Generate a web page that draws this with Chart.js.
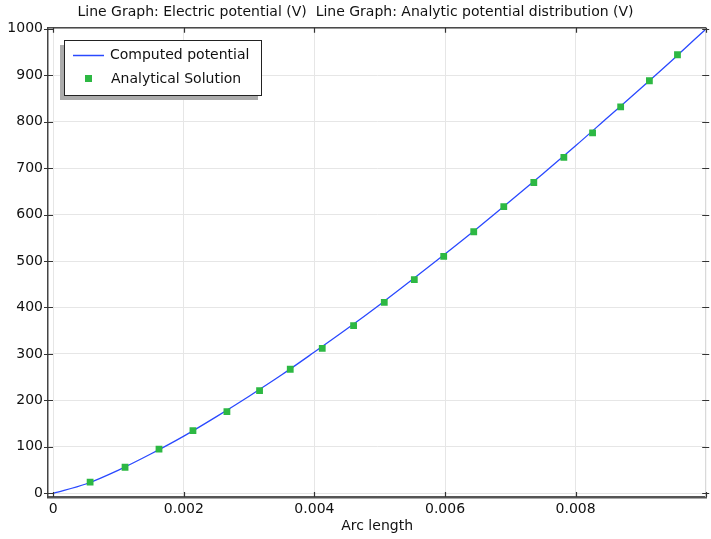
<!DOCTYPE html>
<html>
<head>
<meta charset="utf-8">
<script src="https://cdn.jsdelivr.net/npm/chart.js@4"></script>
<style>
  html, body { margin: 0; padding: 0; background: #fff; }
  #chart { display: block; }
</style>
</head>
<body>
<canvas id="chart" width="711" height="539"></canvas>
<script>
/* --------------------------
   DATA
--------------------------- */
// Computed potential (line)
const lineX = [0, 0.0005, 0.001, 0.0015, 0.002, 0.0025, 0.003, 0.0035, 0.004, 0.0045, 0.005,
               0.0055, 0.006, 0.0065, 0.007, 0.0075, 0.008, 0.0085, 0.009, 0.0095, 0.01];
const lineY = [0, 20, 50, 85, 123, 165, 209, 255, 304, 354, 406,
               460, 515, 571, 629, 688, 748, 810, 872, 935, 1000];

// Analytical solution (markers)
const markX = [0.000565, 0.0011, 0.00162, 0.00214, 0.00266, 0.00316, 0.00363, 0.00412, 0.0046, 0.00507,
               0.00553, 0.00598, 0.00644, 0.0069, 0.00736, 0.00782, 0.00826, 0.00869, 0.00913, 0.00956];
const markY = [24, 56, 95, 135, 176, 221, 267, 312, 361, 411,
               460, 510, 563, 617, 669, 723, 776, 832, 888, 944];

const xTicks = [0, 0.002, 0.004, 0.006, 0.008];
const yTicks = [0, 100, 200, 300, 400, 500, 600, 700, 800, 900, 1000];

const titleText = 'Line Graph: Electric potential (V)  Line Graph: Analytic potential distribution (V)';
const seriesNames = ['Computed potential', 'Analytical Solution'];

const FONT = 'DejaVu Sans';
const BLUE = '#2a49ff';
const GREEN = '#2db843';

/* --------------------------
   FRAME + LEGEND PLUGIN
--------------------------- */
const framePlugin = {
    id: 'frame',
    afterDraw(chart) {
        const ctx = chart.ctx;
        const a = chart.chartArea;
        const xs = chart.scales.x, ys = chart.scales.y;
        ctx.save();

        // right edge (light) and top edge (dark)
        ctx.strokeStyle = '#d0d0d0';
        ctx.lineWidth = 1;
        ctx.beginPath();
        ctx.moveTo(a.right - 0.5, a.top);
        ctx.lineTo(a.right - 0.5, a.bottom);
        ctx.stroke();
        ctx.strokeStyle = '#4a4a4a';
        ctx.lineWidth = 1.5;
        ctx.beginPath();
        ctx.moveTo(a.left, a.top);
        ctx.lineTo(a.right, a.top);
        ctx.stroke();

        // tick marks
        ctx.strokeStyle = '#333';
        ctx.lineWidth = 1.2;
        xTicks.concat([0.01]).forEach(v => {
            const px = Math.round(xs.getPixelForValue(v)) + 0.5;
            ctx.beginPath();
            ctx.moveTo(px, a.bottom);
            ctx.lineTo(px, a.bottom - 5);
            ctx.moveTo(px, a.top);
            ctx.lineTo(px, a.top + 5);
            ctx.stroke();
        });
        yTicks.forEach(v => {
            const py = Math.round(ys.getPixelForValue(v)) + 0.5;
            ctx.beginPath();
            ctx.moveTo(a.left - 4, py);
            ctx.lineTo(a.left + 5, py);
            ctx.moveTo(a.right - 4, py);
            ctx.lineTo(a.right + 3, py);
            ctx.stroke();
        });

        // legend box with shadow
        const bx = 64, by = 40, bw = 197, bh = 55;
        ctx.fillStyle = '#ababab';
        ctx.fillRect(bx - 4, by + 5, bw + 1, bh);
        ctx.fillStyle = '#fff';
        ctx.fillRect(bx, by, bw, bh);
        ctx.strokeStyle = '#222';
        ctx.lineWidth = 1;
        ctx.strokeRect(bx + 0.5, by + 0.5, bw, bh);

        ctx.strokeStyle = BLUE;
        ctx.lineWidth = 1.5;
        ctx.beginPath();
        ctx.moveTo(73, 55.5);
        ctx.lineTo(104, 55.5);
        ctx.stroke();
        ctx.fillStyle = GREEN;
        ctx.fillRect(85, 75, 7, 7);

        ctx.fillStyle = '#111';
        ctx.font = '14px "' + FONT + '"';
        ctx.textBaseline = 'middle';
        ctx.textAlign = 'left';
        ctx.fillText(seriesNames[0], 110, 55);
        ctx.fillText(seriesNames[1], 111, 79);
        ctx.restore();
    }
};

/* --------------------------
   CHART
--------------------------- */
const ctx = document.getElementById('chart').getContext('2d');

const chart = new Chart(ctx, {
    type: 'scatter',
    data: {
        datasets: [
            {
                label: seriesNames[0],
                data: lineX.map((x, i) => ({ x: x, y: lineY[i] })),
                showLine: true,
                borderColor: BLUE,
                borderWidth: 1.3,
                pointRadius: 0,
                cubicInterpolationMode: 'monotone',
                order: 2
            },
            {
                label: seriesNames[1],
                data: markX.map((x, i) => ({ x: x, y: markY[i] })),
                showLine: false,
                pointStyle: 'rect',
                pointRadius: 4.8,
                backgroundColor: GREEN,
                borderColor: GREEN,
                borderWidth: 0,
                order: 1
            }
        ]
    },
    options: {
        responsive: false,
        animation: false,
        layout: { padding: { top: 0, right: 0, left: 0, bottom: 0 } },
        plugins: {
            legend: { display: false },
            tooltip: { enabled: false },
            title: {
                display: true,
                text: titleText,
                color: '#111',
                font: { family: FONT, size: 14, weight: 'normal' },
                padding: { top: 4, bottom: 7 }
            }
        },
        scales: {
            x: {
                type: 'linear',
                min: -0.00008,
                max: 0.01,
                afterBuildTicks: s => { s.ticks = xTicks.map(v => ({ value: v })); },
                afterFit: s => { s.height = 42; },
                ticks: {
                    color: '#111',
                    font: { family: FONT, size: 14 },
                    padding: 4,
                    maxRotation: 0,
                    callback: v => v === 0 ? '0' : v.toFixed(3)
                },
                grid: { color: '#e6e6e6', drawTicks: false },
                border: { display: true, color: '#555', width: 2.5 },
                title: {
                    display: true,
                    text: 'Arc length',
                    color: '#111',
                    font: { family: FONT, size: 14 },
                    padding: { top: 0, bottom: 4 }
                }
            },
            y: {
                type: 'linear',
                min: -8,
                max: 1002,
                afterBuildTicks: s => { s.ticks = yTicks.map(v => ({ value: v })); },
                afterFit: s => { s.width = 48; },
                ticks: {
                    color: '#111',
                    font: { family: FONT, size: 14 },
                    padding: 5,
                    callback: v => String(v)
                },
                grid: { color: '#e6e6e6', drawTicks: false },
                border: { display: true, color: '#444', width: 1.5 }
            }
        }
    },
    plugins: [framePlugin]
});
</script>
</body>
</html>
